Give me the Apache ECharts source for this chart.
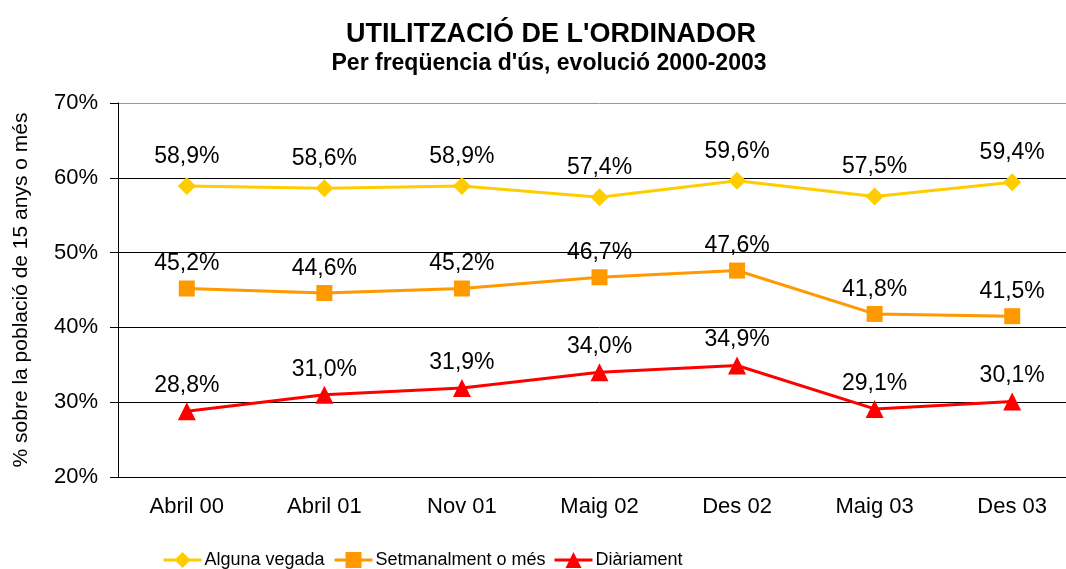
<!DOCTYPE html>
<html>
<head>
<meta charset="utf-8">
<script src="https://cdn.jsdelivr.net/npm/echarts@6/dist/echarts.min.js"></script>
<style>
  html, body { margin: 0; padding: 0; background: #fff; overflow: hidden; }
  #chart { width: 1081px; height: 569px; }
</style>
</head>
<body>
<div id="chart"></div>
<script>
const categories = ["Abril 00", "Abril 01", "Nov 01", "Maig 02", "Des 02", "Maig 03", "Des 03"];
const algunaVegada = [58.9, 58.6, 58.9, 57.4, 59.6, 57.5, 59.4];
const setmanalment = [45.2, 44.6, 45.2, 46.7, 47.6, 41.8, 41.5];
const diariament = [28.8, 31.0, 31.9, 34.0, 34.9, 29.1, 30.1];
const seriesNames = ["Alguna vegada", "Setmanalment o més", "Diàriament"];
const yTicks = [20, 30, 40, 50, 60, 70];

const font = "Liberation Sans, Arial, sans-serif";
const pct = v => v.toFixed(1).replace(".", ",") + "%";

const chart = echarts.init(document.getElementById("chart"));

function lineSeries(name, data, color, symbol, size, dist) {
  return {
    name: name,
    type: "line",
    data: data,
    symbol: symbol,
    symbolSize: size,
    showAllSymbol: true,
    lineStyle: { color: color, width: 3 },
    itemStyle: { color: color },
    label: {
      show: true,
      position: "top",
      distance: dist,
      color: "#000",
      fontFamily: font,
      fontSize: 23,
      formatter: p => pct(p.value)
    }
  };
}

// one legend per item so each entry sits where the original has it
function legendAt(name, left) {
  return {
    left: left,
    top: 546,
    itemWidth: 38,
    itemHeight: 20,
    lineStyle: { width: 3 },
    textStyle: { fontFamily: font, fontSize: 18, color: "#000", padding: [0, 0, 0, -2] },
    data: [name]
  };
}

chart.setOption({
  animation: false,
  title: [
    {
      text: "UTILITZACIÓ DE L'ORDINADOR",
      left: 546,
      textAlign: "center",
      top: 16,
      textStyle: { fontFamily: font, fontSize: 27, fontWeight: "bold", color: "#000" }
    },
    {
      text: "Per freqüencia d'ús, evolució 2000-2003",
      left: 544,
      textAlign: "center",
      top: 47,
      textStyle: { fontFamily: font, fontSize: 23, fontWeight: "bold", color: "#000" }
    }
  ],
  legend: [
    legendAt(seriesNames[0], 157),
    legendAt(seriesNames[1], 328),
    legendAt(seriesNames[2], 548)
  ],
  grid: { left: 118, right: 0, top: 103, bottom: 92 },
  xAxis: {
    type: "category",
    data: categories,
    boundaryGap: true,
    axisLine: { show: true, lineStyle: { color: "#000", width: 1 } },
    axisTick: { show: false },
    axisLabel: { color: "#000", fontFamily: font, fontSize: 22, margin: 19, interval: 0 }
  },
  yAxis: {
    type: "value",
    min: yTicks[0],
    max: yTicks[yTicks.length - 1],
    interval: 10,
    name: "% sobre la població de 15 anys o més",
    nameLocation: "middle",
    nameGap: 86,
    nameTextStyle: { fontFamily: font, fontSize: 21, color: "#000" },
    axisLine: { show: true, lineStyle: { color: "#000", width: 1 } },
    axisTick: { show: true, length: 8, lineStyle: { color: "#000" } },
    axisLabel: { color: "#000", fontFamily: font, fontSize: 22, margin: 20, formatter: v => v + "%" },
    splitLine: {
      show: true,
      lineStyle: { color: ["#000", "#000", "#000", "#000", "#000", "#999"], width: 1 }
    }
  },
  series: [
    lineSeries(seriesNames[0], algunaVegada, "#FFCC00", "diamond", 18, 9),
    lineSeries(seriesNames[1], setmanalment, "#FF9900", "rect", 16, 5),
    lineSeries(seriesNames[2], diariament, "#FF0000", "triangle", 18, 5)
  ]
});
</script>
</body>
</html>
